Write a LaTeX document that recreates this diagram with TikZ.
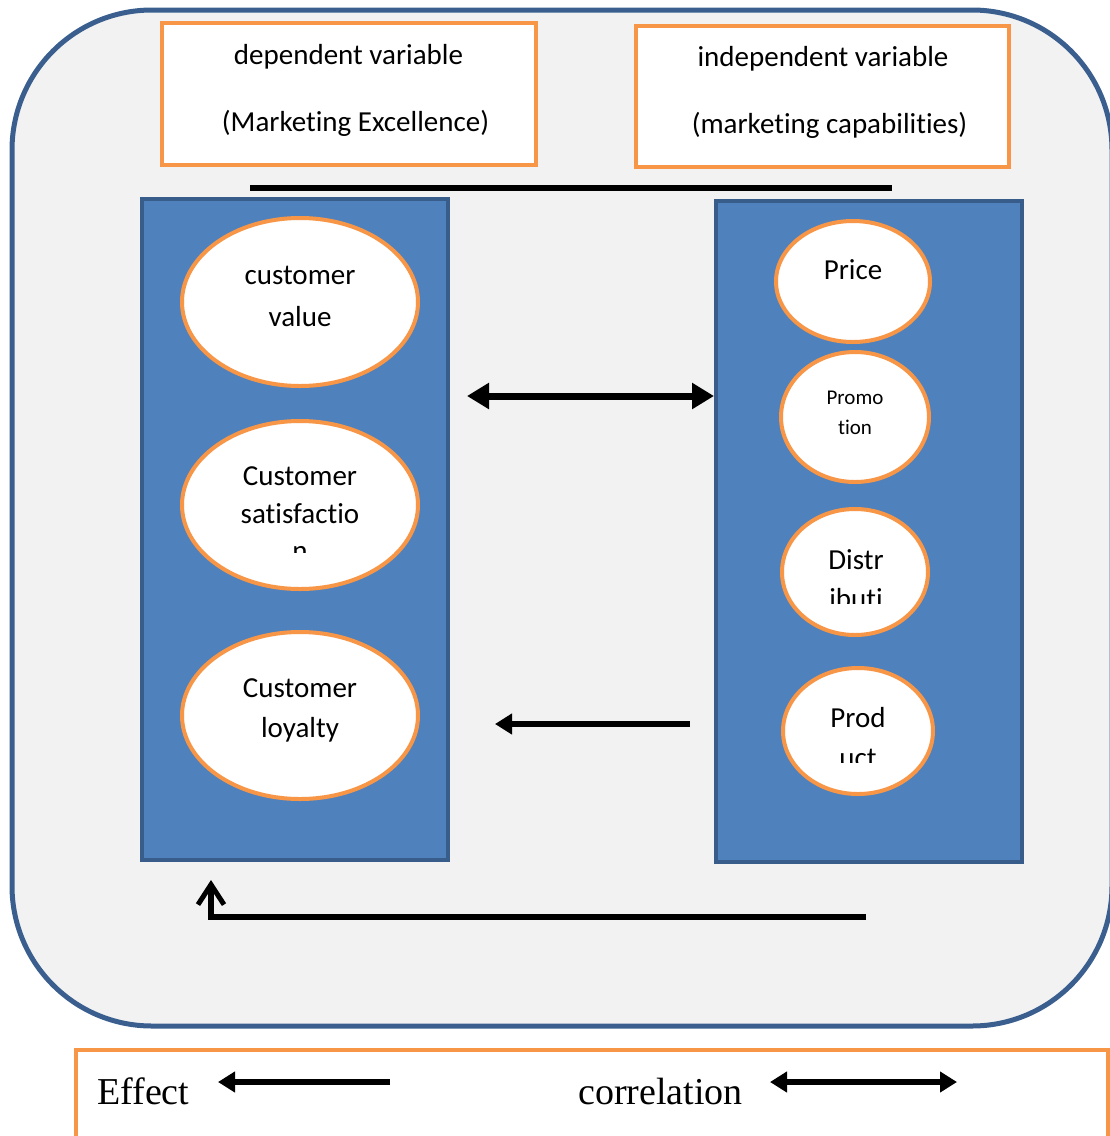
\documentclass[tikz,border=0pt]{standalone}
\usepackage{fontspec}
\setmainfont{Carlito}[RawFeature={-liga;-clig;-calt;-dlig;-rlig}]
\newfontfamily\legendfont{Liberation Serif}
\usetikzlibrary{arrows.meta,shapes.geometric}

% keep t and i as separate glyphs
\newcommand{\tsep}{t\kern0pt }

\definecolor{bgpanel}{HTML}{F2F2F2}
\definecolor{panelline}{HTML}{3A5F8F}
\definecolor{accent}{HTML}{F79646}
\definecolor{colfill}{HTML}{4F81BD}
\definecolor{colline}{HTML}{385D8A}

\tikzset{
  headbox/.style={draw=accent, line width=4pt, fill=white},
  column/.style={draw=colline, line width=4pt, fill=colfill, rectangle, inner sep=0pt},
  oval/.style={ellipse, draw=accent, line width=4pt, fill=white, inner sep=0pt},
  lbl/.style={font=\fontsize{29}{35}\selectfont, anchor=base, inner sep=0pt},
  smalllbl/.style={font=\fontsize{21}{25}\selectfont, anchor=base, inner sep=0pt},
  leg/.style={font=\legendfont\fontsize{38}{44}\selectfont, anchor=base west, inner sep=0pt},
  bigtip/.tip={Triangle[length=22pt,width=25pt]},
  smalltip/.tip={Triangle[length=17pt,width=20pt]},
  link/.style={line width=7pt},
  leglink/.style={line width=6pt},
}

\begin{document}
\begin{tikzpicture}[x=1pt,y=-1pt]
\useasboundingbox (0,0) rectangle (1110,1136);
\clip (0,0) rectangle (1110,1136);

% outer panel
\draw[fill=bgpanel, draw=panelline, line width=5pt, rounded corners=140pt]
  (12,10) rectangle (1112,1026);

% heading boxes
\node[headbox, minimum width=374pt, minimum height=142pt] (dep) at (349,94) {};
\node[headbox, minimum width=373pt, minimum height=141pt] (ind) at (822.5,96.5) {};
\node[lbl] (dep1) at (348.5,64) {dependent variable};
\node[lbl] (dep2) at (355.5,131) {(Marke\tsep ing Excellence)};
\node[lbl] (ind1) at (823,66) {independent variable};
\node[lbl] (ind2) at (829.5,133) {(marke\tsep ing capabili\tsep ies)};

% rule under the headings
\coordinate (ruleL) at (250,188);
\coordinate (ruleR) at (892,188);
\draw[line width=6pt] (ruleL) -- (ruleR);

% the two columns
\node[column, minimum width=306pt, minimum height=661pt] (colL) at (295,529.5) {};
\node[column, minimum width=306pt, minimum height=661pt] (colR) at (869,531.5) {};

% dependent side
\node[oval, minimum width=236pt, minimum height=168pt] (cv) at (300,302) {};
\node[oval, minimum width=236pt, minimum height=168pt] (cs) at (300,505) {};
\node[oval, minimum width=236pt, minimum height=167pt] (cl) at (300,715.5) {};
\node[lbl] (cv1) at (300,284) {customer};
\node[lbl] (cv2) at (300,326) {value};
\node[lbl] (cs1) at (300,485) {Customer};
\begin{scope}
  \clip (180,440) rectangle (420,552);
  \node[lbl] (cs2) at (300,523) {satisfac\tsep io};
  \node[lbl] (cs3) at (300,560) {n};
\end{scope}
\node[lbl] (cl1) at (300,697) {Customer};
\node[lbl] (cl2) at (300,737) {loyalty};

% independent side
\node[oval, minimum width=154pt, minimum height=121pt] (pr) at (853,281.5) {};
\node[oval, minimum width=148pt, minimum height=130pt] (pm) at (855,417) {};
\node[oval, minimum width=146pt, minimum height=126pt] (ds) at (855,572) {};
\node[oval, minimum width=150pt, minimum height=126pt] (pd) at (858,731) {};
\node[lbl] (pr1) at (853,279) {Price};
\node[smalllbl] (pm1) at (855,404) {Promo};
\node[smalllbl] (pm2) at (855,434) {\tsep ion};
\begin{scope}
  \clip (780,530) rectangle (930,603);
  \node[lbl] (ds1) at (856,569) {Distr};
  \node[lbl] (ds2) at (856,608) {ibu\tsep i};
\end{scope}
\begin{scope}
  \clip (780,690) rectangle (935,762);
  \node[lbl] (pd1) at (858,727) {Prod};
  \node[lbl] (pd2) at (858,767) {uct};
\end{scope}

% relations between the columns
\coordinate (corrL) at (467,396);
\coordinate (effR) at (690,724);
\coordinate (effL) at (495,724);
\draw[link, bigtip-bigtip] (corrL) -- (colR.west |- corrL);
\draw[leglink, -smalltip] (effR) -- (effL);

\coordinate (retR) at (866,917);
\coordinate (retL) at (211,917);
\coordinate (retTip) at (211,880);
\draw[line width=6pt, -{Straight Barb[length=20pt,width=26pt,line width=5pt]}]
  (retR) -- (retL) -- (retTip);

% legend
\node[headbox, outer sep=0pt, minimum width=1032pt, minimum height=100pt, anchor=north west] (legend) at (76,1050) {};
\node[leg] (legEff) at (97,1104) {Effect};
\node[leg] (legCor) at (578,1104) {correlation};
\coordinate (legEffA) at (390,1082);
\coordinate (legEffB) at (218,1082);
\coordinate (legCorA) at (770,1082);
\coordinate (legCorB) at (957,1082);
\draw[leglink, -smalltip] (legEffA) -- (legEffB);
\draw[leglink, smalltip-smalltip] (legCorA) -- (legCorB);
\end{tikzpicture}
\end{document}
